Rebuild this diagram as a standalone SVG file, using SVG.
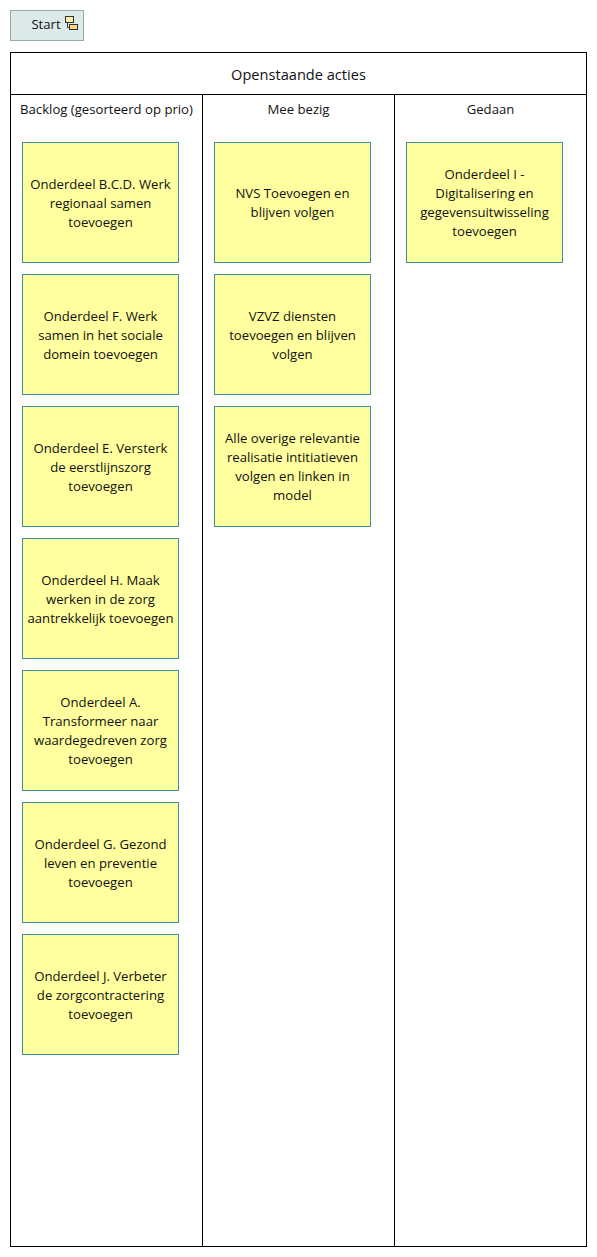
<svg xmlns="http://www.w3.org/2000/svg" width="597" height="1257" viewBox="0 0 597 1257">
<style>
text{font-family:"Open Sans","Noto Sans","Liberation Sans",sans-serif;font-size:13.15px;fill:#111;text-anchor:middle}
.n{fill:#ffff9f;stroke:#3f8f98;stroke-width:1}
.l{fill:none;stroke:#000;stroke-width:1}
.i{stroke:#333;stroke-width:1}
</style>
<rect width="597" height="1257" fill="#fff"/>
<g id="start"><rect x="10.500" y="10.500" width="73" height="30" fill="#dceaea" stroke="#9aa8a8"/><text x="46" y="29">Start</text>
<path d="M67.500 22.500v5h2.500" fill="none" stroke="#333"/><rect class="i" x="65.500" y="16.500" width="8" height="6" fill="#fff0a8"/><rect class="i" x="69.500" y="24.500" width="8" height="5" fill="#ffd87a"/></g>
<g id="board"><rect class="l" x="10.500" y="52.500" width="576" height="1194"/><path class="l" d="M10.500 94.500H586.500M202.500 94.500V1246.500M394.500 94.500V1246.500"/>
<text x="298.500" y="80" style="font-size:14.600px">Openstaande acties</text>
<text x="106.500" y="114">Backlog (gesorteerd op prio)</text><text x="298.500" y="114">Mee bezig</text><text x="490.500" y="114">Gedaan</text></g>
<g id="n1"><rect class="n" x="22.500" y="142.500" width="156" height="120"/><text x="100.500" y="189">Onderdeel B.C.D. Werk</text><text x="100.500" y="208">regionaal samen</text><text x="100.500" y="227">toevoegen</text></g>
<g id="n2"><rect class="n" x="22.500" y="274.500" width="156" height="120"/><text x="100.500" y="321">Onderdeel F. Werk</text><text x="100.500" y="340">samen in het sociale</text><text x="100.500" y="359">domein toevoegen</text></g>
<g id="n3"><rect class="n" x="22.500" y="406.500" width="156" height="120"/><text x="100.500" y="453">Onderdeel E. Versterk</text><text x="100.500" y="472">de eerstlijnszorg</text><text x="100.500" y="491">toevoegen</text></g>
<g id="n4"><rect class="n" x="22.500" y="538.500" width="156" height="120"/><text x="100.500" y="585">Onderdeel H. Maak</text><text x="100.500" y="604">werken in de zorg</text><text x="100.500" y="623">aantrekkelijk toevoegen</text></g>
<g id="n5"><rect class="n" x="22.500" y="670.500" width="156" height="120"/><text x="100.500" y="707">Onderdeel A.</text><text x="100.500" y="726">Transformeer naar</text><text x="100.500" y="745">waardegedreven zorg</text><text x="100.500" y="764">toevoegen</text></g>
<g id="n6"><rect class="n" x="22.500" y="802.500" width="156" height="120"/><text x="100.500" y="849">Onderdeel G. Gezond</text><text x="100.500" y="868">leven en preventie</text><text x="100.500" y="887">toevoegen</text></g>
<g id="n7"><rect class="n" x="22.500" y="934.500" width="156" height="120"/><text x="100.500" y="981">Onderdeel J. Verbeter</text><text x="100.500" y="1000">de zorgcontractering</text><text x="100.500" y="1019">toevoegen</text></g>
<g id="n8"><rect class="n" x="214.500" y="142.500" width="156" height="120"/><text x="292.500" y="198">NVS Toevoegen en</text><text x="292.500" y="217">blijven volgen</text></g>
<g id="n9"><rect class="n" x="214.500" y="274.500" width="156" height="120"/><text x="292.500" y="321">VZVZ diensten</text><text x="292.500" y="340">toevoegen en blijven</text><text x="292.500" y="359">volgen</text></g>
<g id="n10"><rect class="n" x="214.500" y="406.500" width="156" height="120"/><text x="292.500" y="443">Alle overige relevantie</text><text x="292.500" y="462">realisatie intitiatieven</text><text x="292.500" y="481">volgen en linken in</text><text x="292.500" y="500">model</text></g>
<g id="n11"><rect class="n" x="406.500" y="142.500" width="156" height="120"/><text x="484.500" y="179">Onderdeel I -</text><text x="484.500" y="198">Digitalisering en</text><text x="484.500" y="217">gegevensuitwisseling</text><text x="484.500" y="236">toevoegen</text></g>
<g id="connectors"/>
</svg>
